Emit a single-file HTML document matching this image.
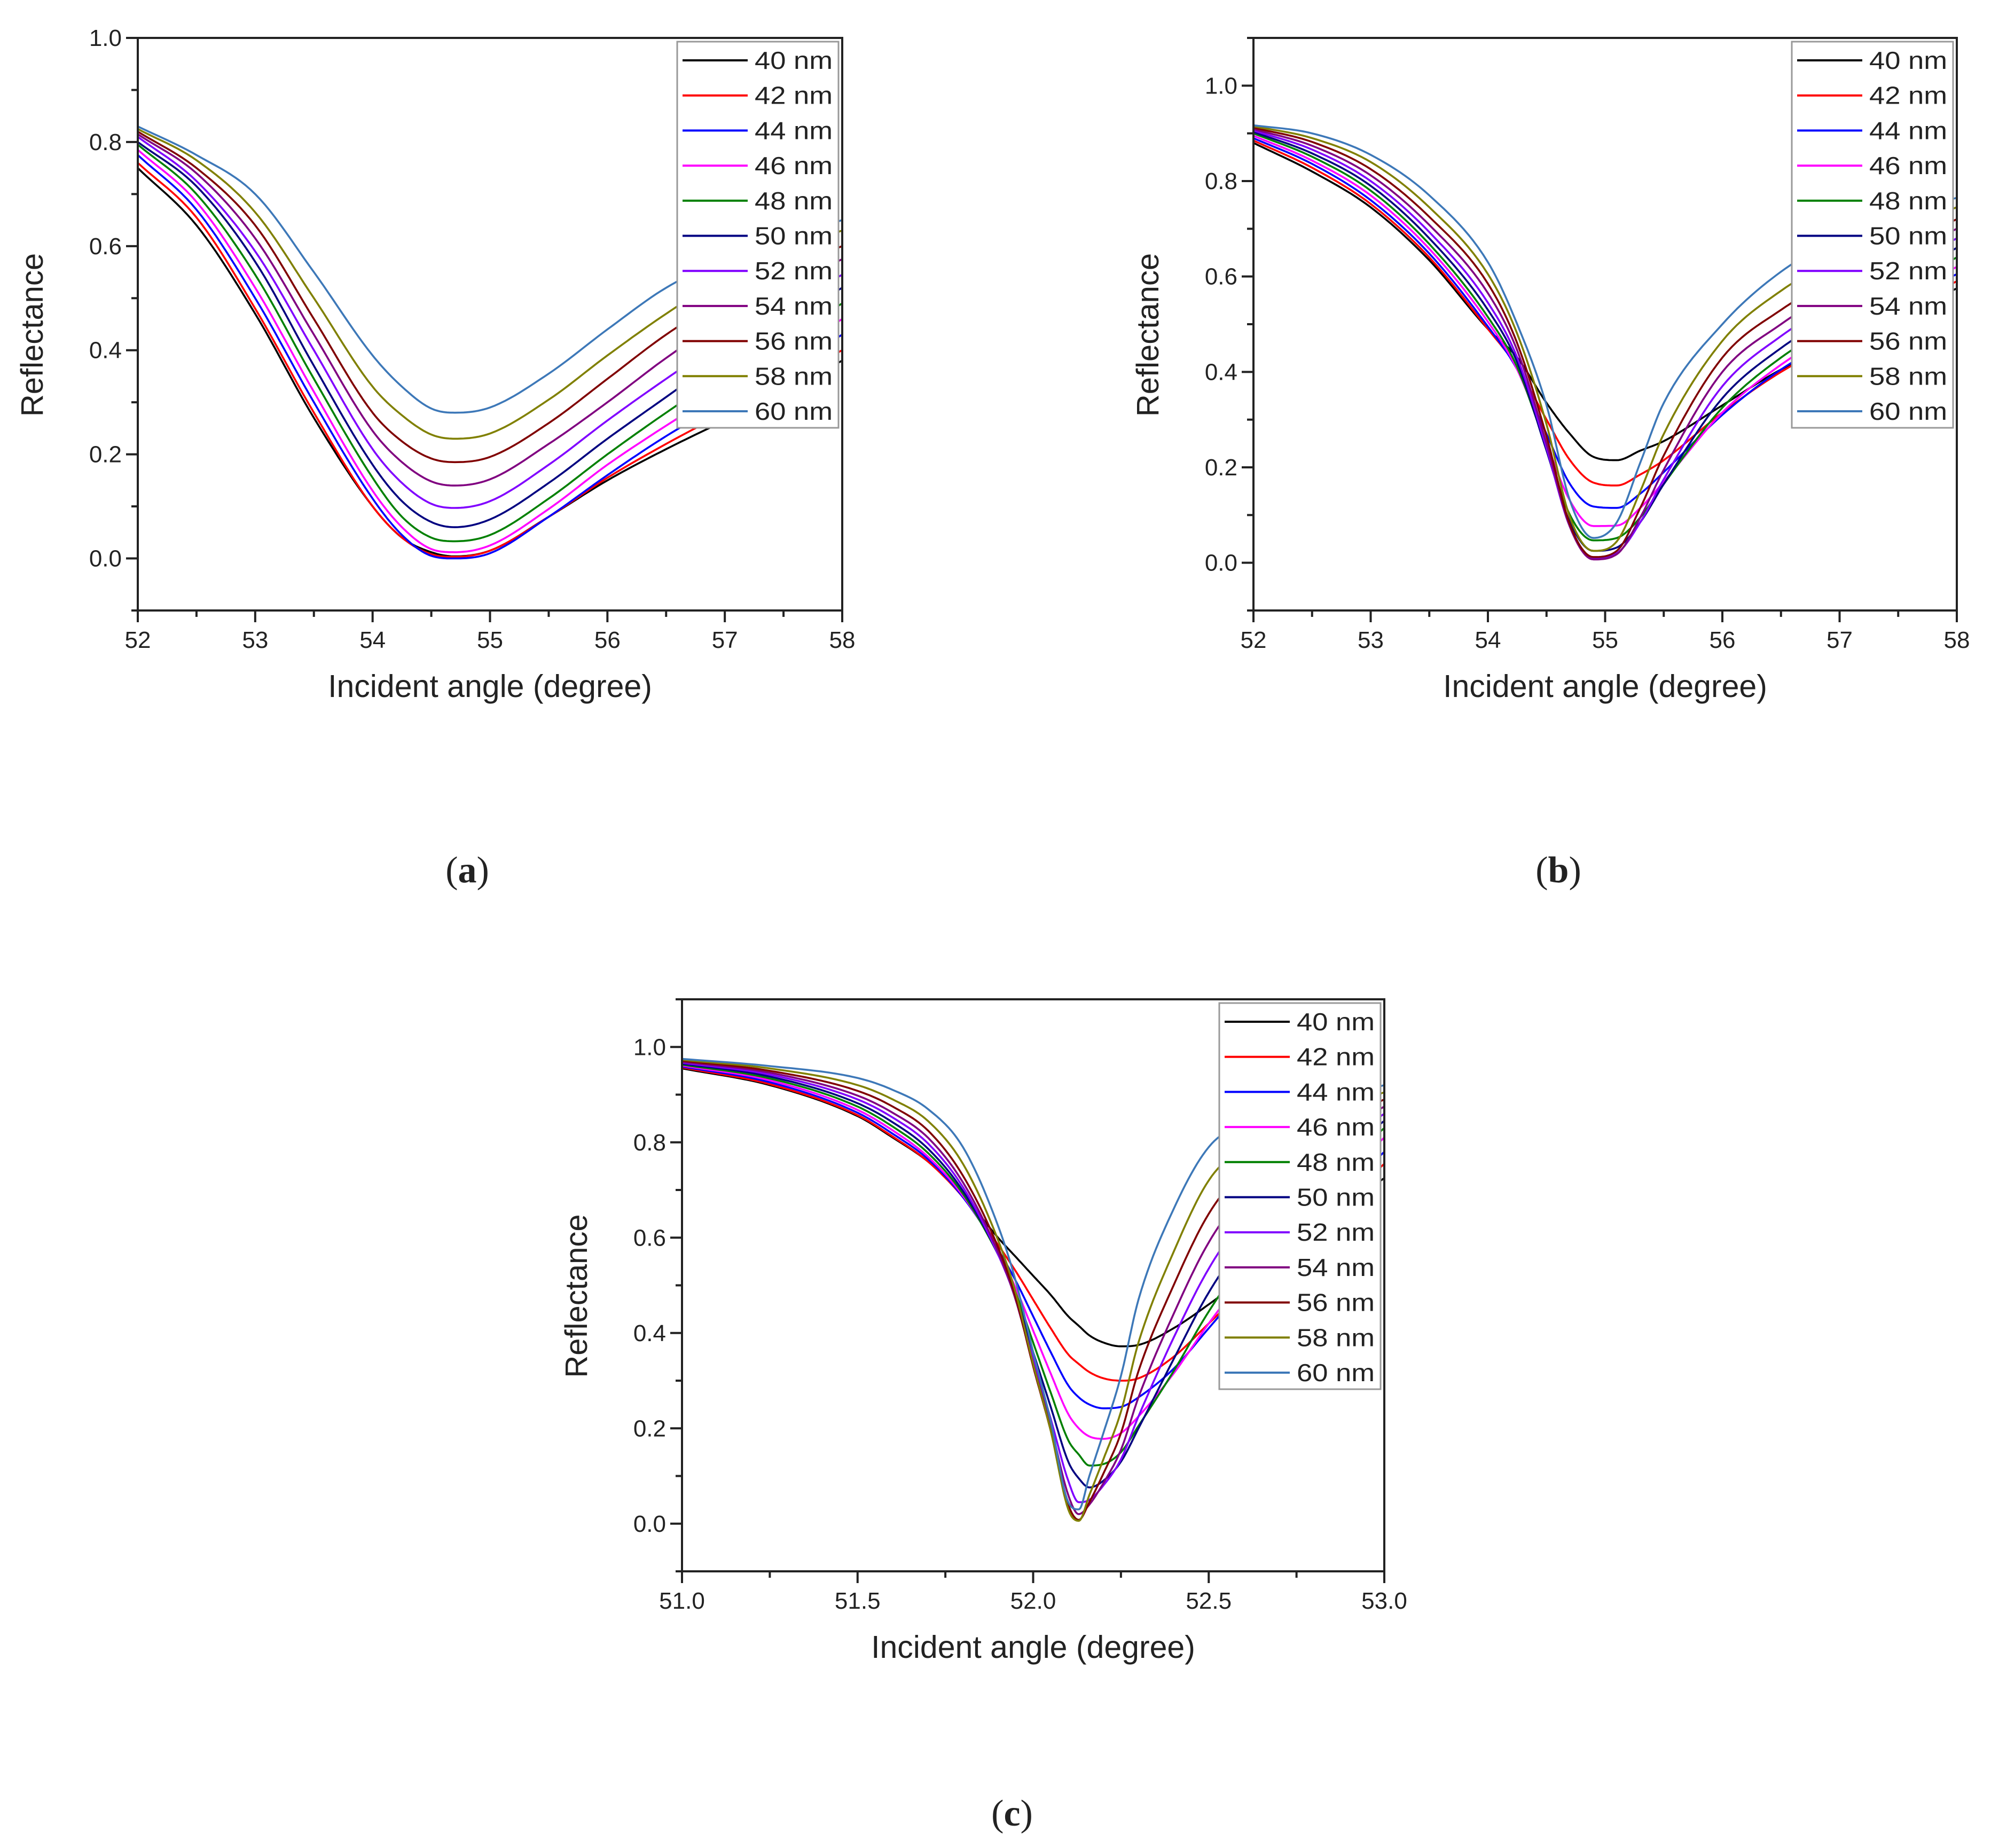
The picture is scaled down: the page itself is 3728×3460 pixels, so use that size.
<!DOCTYPE html>
<html><head><meta charset="utf-8"><style>
html,body{margin:0;padding:0;background:#fff}
svg{display:block}
text{font-family:"Liberation Sans",sans-serif;fill:#222}
</style></head><body>
<svg id="fig" width="3728" height="3460" viewBox="0 0 3728 3460" xmlns="http://www.w3.org/2000/svg"></svg>
<script>
const thicknessLabels = ["40 nm","42 nm","44 nm","46 nm","48 nm","50 nm","52 nm","54 nm","56 nm","58 nm","60 nm"];
const seriesColors = ["#000000","#ff0000","#0000ff","#ff00ff","#008000","#000080","#8000ff","#800080","#800000","#808000","#3d78b8"];

// Panel (a): rows = angle, columns = thickness 40..60 nm
const anglesA = [52,52.5,53,53.5,54,54.25,54.5,54.7,55,55.5,56,56.5,57,57.5,58];
const reflA = [
[.75,.76,.775,.785,.795,.80,.81,.815,.82,.825,.83],
[.64,.655,.67,.685,.70,.715,.725,.74,.75,.765,.775],
[.47,.48,.50,.52,.545,.57,.59,.615,.64,.665,.70],
[.27,.28,.30,.32,.345,.37,.40,.43,.46,.50,.55],
[.10,.10,.115,.13,.155,.18,.21,.245,.28,.33,.39],
[.04,.04,.045,.06,.08,.11,.145,.185,.225,.275,.33],
[.012,.008,.005,.018,.04,.07,.105,.148,.192,.238,.288],
[.004,.003,.0,.012,.033,.06,.097,.14,.185,.23,.28],
[.015,.015,.01,.025,.045,.075,.11,.152,.195,.24,.29],
[.08,.08,.08,.095,.115,.145,.18,.22,.26,.305,.355],
[.15,.155,.16,.18,.20,.23,.265,.30,.345,.39,.44],
[.21,.22,.235,.255,.28,.31,.345,.385,.43,.47,.52],
[.265,.28,.30,.325,.355,.39,.42,.46,.50,.54,.575],
[.32,.34,.36,.39,.42,.455,.485,.52,.555,.59,.615],
[.38,.40,.43,.46,.49,.52,.545,.575,.60,.63,.65]];

// Panel (b)
const anglesB = [52,52.5,53,53.5,54,54.25,54.5,54.7,54.9,55.1,55.3,55.5,56,56.5,57,57.5,58];
const reflB = [
[.88,.885,.89,.895,.90,.903,.906,.909,.912,.915,.917],
[.82,.828,.836,.843,.851,.858,.866,.874,.882,.89,.90],
[.745,.752,.76,.77,.78,.79,.80,.812,.825,.84,.855],
[.634,.64,.648,.658,.668,.68,.693,.708,.725,.745,.77],
[.49,.49,.495,.505,.515,.53,.545,.565,.585,.605,.63],
[.43,.41,.405,.405,.41,.42,.43,.445,.46,.48,.50],
[.335,.30,.27,.25,.24,.235,.24,.25,.265,.29,.33],
[.27,.215,.165,.13,.10,.085,.075,.075,.08,.095,.13],
[.222,.168,.118,.077,.047,.025,.01,.007,.012,.025,.052],
[.215,.162,.115,.078,.052,.032,.02,.018,.025,.045,.085],
[.235,.185,.145,.115,.095,.085,.085,.095,.115,.15,.21],
[.255,.215,.19,.17,.165,.165,.175,.195,.225,.27,.335],
[.33,.315,.31,.315,.325,.345,.37,.40,.43,.465,.50],
[.405,.40,.405,.415,.43,.45,.475,.50,.53,.57,.61],
[.46,.465,.475,.49,.505,.525,.55,.575,.60,.64,.68],
[.52,.53,.545,.56,.575,.595,.615,.64,.665,.70,.73],
[.575,.59,.605,.62,.64,.66,.68,.70,.72,.745,.765]];

// Panel (c)
const anglesC = [51.0,51.25,51.5,51.6,51.7,51.8,51.9,51.95,52.0,52.05,52.1,52.13,52.16,52.2,52.25,52.3,52.4,52.5,52.6,52.8,53.0];
const reflC = [
[.955,.957,.959,.961,.963,.965,.967,.969,.971,.973,.975],
[.92,.922,.926,.93,.934,.938,.942,.946,.95,.955,.96],
[.855,.857,.862,.868,.875,.882,.89,.898,.908,.92,.935],
[.81,.812,.818,.825,.833,.842,.852,.862,.875,.89,.91],
[.76,.76,.765,.77,.778,.787,.798,.81,.825,.845,.87],
[.69,.685,.685,.688,.692,.698,.706,.716,.73,.755,.79],
[.60,.585,.575,.57,.565,.565,.565,.57,.58,.595,.625],
[.56,.53,.51,.495,.485,.478,.472,.47,.475,.485,.51],
[.52,.47,.435,.405,.38,.36,.345,.335,.33,.335,.36],
[.48,.41,.36,.315,.275,.245,.22,.205,.195,.195,.215],
[.435,.355,.29,.23,.175,.13,.09,.06,.04,.03,.045],
[.415,.335,.265,.2,.145,.095,.045,.02,.008,.006,.03],
[.395,.318,.25,.183,.122,.076,.05,.04,.045,.06,.10],
[.38,.305,.242,.178,.125,.09,.08,.085,.105,.135,.19],
[.372,.30,.245,.19,.15,.13,.135,.155,.19,.235,.31],
[.375,.305,.265,.225,.205,.2,.225,.265,.32,.38,.47],
[.41,.35,.325,.315,.32,.345,.39,.44,.50,.57,.66],
[.46,.42,.41,.42,.445,.485,.535,.59,.65,.72,.79],
[.515,.49,.495,.515,.55,.59,.64,.69,.74,.79,.84],
[.62,.62,.64,.67,.70,.73,.76,.79,.82,.85,.88],
[.725,.755,.78,.81,.83,.845,.86,.875,.89,.905,.92]];

const xTicksA = [52,53,54,55,56,57,58];
const xTickLabelsA = ["52","53","54","55","56","57","58"];
const xTicksC = [51.0,51.5,52.0,52.5,53.0];
const xTickLabelsC = ["51.0","51.5","52.0","52.5","53.0"];
const yTicks = [0,0.2,0.4,0.6,0.8,1.0];
const yTickLabels = ["0.0","0.2","0.4","0.6","0.8","1.0"];

const NS = "http://www.w3.org/2000/svg";
const svg = document.getElementById('fig');
function mk(tag, attrs, parent){
  const e = document.createElementNS(NS, tag);
  for (const k in attrs) e.setAttribute(k, attrs[k]);
  (parent||svg).appendChild(e);
  return e;
}
function monotone(xs, ys, n){
  const m = xs.length, d = [], t = new Array(m);
  for (let i=0;i<m-1;i++) d.push((ys[i+1]-ys[i])/(xs[i+1]-xs[i]));
  t[0]=d[0]; t[m-1]=d[m-2];
  for (let i=1;i<m-1;i++){ t[i] = (d[i-1]*d[i]<=0)?0:(d[i-1]+d[i])/2; }
  for (let i=0;i<m-1;i++){
    if (d[i]===0){t[i]=0;t[i+1]=0;continue;}
    const a=t[i]/d[i], b=t[i+1]/d[i], s=a*a+b*b;
    if (s>9){const tau=3/Math.sqrt(s); t[i]=tau*a*d[i]; t[i+1]=tau*b*d[i];}
  }
  const out=[];
  for (let i=0;i<m-1;i++){
    const h=xs[i+1]-xs[i];
    for (let j=0;j<n;j++){
      const u=j/n, h00=2*u*u*u-3*u*u+1, h10=u*u*u-2*u*u+u, h01=-2*u*u*u+3*u*u, h11=u*u*u-u*u;
      out.push([xs[i]+u*h, h00*ys[i]+h10*h*t[i]+h01*ys[i+1]+h11*h*t[i+1]]);
    }
  }
  out.push([xs[m-1], ys[m-1]]);
  return out;
}

function panel(cfg){
  const g = mk('g', {});
  
  
  const {L,R,T,B,x0,x1,y0,y1} = cfg;
  const sx = v => L + (v-x0)/(x1-x0)*(R-L);
  const sy = v => B - (v-y0)/(y1-y0)*(B-T);
  const cid = cfg.name+'-clip';
  const defs = mk('defs', {}, g);
  const cp = mk('clipPath', {id: cid}, defs);
  mk('rect', {x:L, y:T, width:R-L, height:B-T}, cp);
  const cg = mk('g', {'clip-path':'url(#'+cid+')'}, g);
  for (let s=0; s<thicknessLabels.length; s++){
    const ys = cfg.refl.map(r => r[s]);
    const pts = monotone(cfg.angles, ys, 12);
    const d = pts.map((p,i)=>(i?'L':'M')+sx(p[0]).toFixed(1)+' '+sy(p[1]).toFixed(1)).join('');
    const path = mk('path', {d, fill:'none', stroke:seriesColors[s], 'stroke-width':3.6, 'stroke-linejoin':'round'}, cg);
    
    
  }
  const fr = mk('rect', {x:L, y:T, width:R-L, height:B-T, fill:'none', stroke:'#222', 'stroke-width':4}, g);
  
  
  const step = cfg.xTicks[1]-cfg.xTicks[0];
  cfg.xTicks.forEach((v,i)=>{
    mk('line',{x1:sx(v),x2:sx(v),y1:B,y2:B+22,stroke:'#222','stroke-width':4},g);
    if (i<cfg.xTicks.length-1) mk('line',{x1:sx(v+step/2),x2:sx(v+step/2),y1:B,y2:B+12,stroke:'#222','stroke-width':4},g);
    const t = mk('text',{x:sx(v),y:B+70,'text-anchor':'middle','font-size':44},g);
    t.textContent = cfg.xLabels[i];
    
    
  });
  for (let v=-0.1; v<=y1+1e-6; v+=0.1){
    const vv=Math.round(v*10)/10;
    const major = Math.abs(vv*10)%2===0;
    mk('line',{x1:L,x2:L-(major?22:12),y1:sy(vv),y2:sy(vv),stroke:'#222','stroke-width':4},g);
  }
  yTicks.forEach((v,i)=>{
    const t = mk('text',{x:L-30,y:sy(v)+15,'text-anchor':'end','font-size':44},g);
    t.textContent = yTickLabels[i];
    
    
  });
  const xt = mk('text',{x:(L+R)/2,y:B+162,'text-anchor':'middle','font-size':59},g);
  xt.textContent='Incident angle (degree)';
  
  
  const yx=L-178, yy=(T+B)/2+20;
  const yt = mk('text',{x:yx,y:yy,'text-anchor':'middle','font-size':58,transform:'rotate(-90 '+yx+' '+yy+')'},g);
  yt.textContent='Reflectance';
  
  
  const lg = mk('g',{},g);
  
  
  const bx=R-309, by=T+7;
  mk('rect',{x:bx,y:by,width:302,height:723,fill:'#fff',stroke:'#999','stroke-width':3},lg);
  thicknessLabels.forEach((lab,i)=>{
    const cy = by+35+i*65.7;
    const e = mk('g',{},lg);
    
    
    mk('line',{x1:bx+10,x2:bx+132,y1:cy,y2:cy,stroke:seriesColors[i],'stroke-width':4},e);
    const t = mk('text',{x:bx+145,y:cy+16,'font-size':46,textLength:146,lengthAdjust:'spacingAndGlyphs'},e);
    t.textContent=lab;
  });
  const pl = mk('text',{x:cfg.labX,y:cfg.labY,'text-anchor':'middle','font-size':70,style:'font-family:"Liberation Serif",serif'},g);
  pl.innerHTML = '(<tspan font-weight="bold">'+cfg.lab+'</tspan>)';
  
  
}

panel({name:'panel-a',L:258,R:1577,T:71,B:1143,x0:52,x1:58,y0:-0.1,y1:1.0,angles:anglesA,refl:reflA,xTicks:xTicksA,xLabels:xTickLabelsA,lab:'a',labX:875,labY:1652});
panel({name:'panel-b',L:2347,R:3664,T:71,B:1143,x0:52,x1:58,y0:-0.1,y1:1.1,angles:anglesB,refl:reflB,xTicks:xTicksA,xLabels:xTickLabelsA,lab:'b',labX:2918,labY:1652});
panel({name:'panel-c',L:1277,R:2592,T:1871,B:2942,x0:51,x1:53,y0:-0.1,y1:1.1,angles:anglesC,refl:reflC,xTicks:xTicksC,xLabels:xTickLabelsC,lab:'c',labX:1895,labY:3418});
</script>
</body></html>
